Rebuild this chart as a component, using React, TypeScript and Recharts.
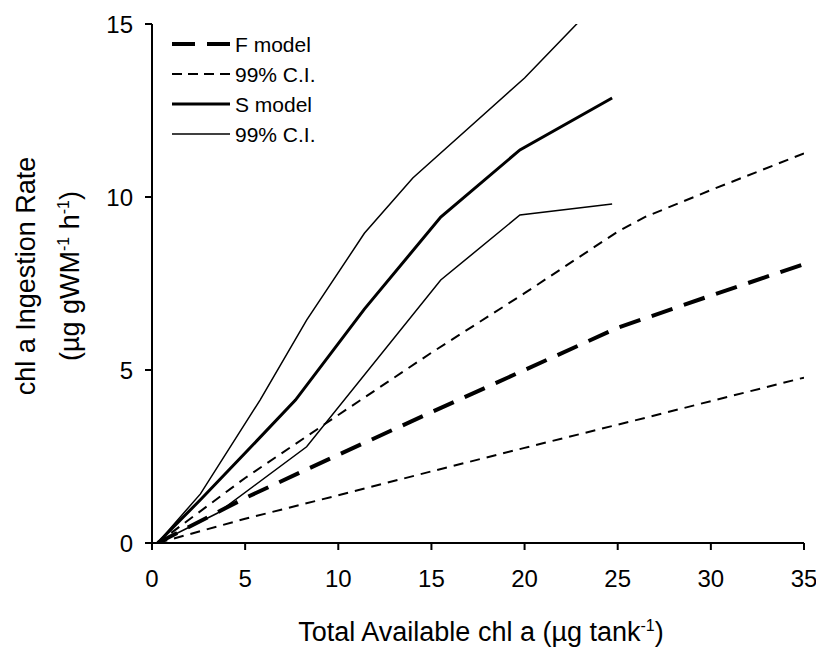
import { LineChart, Line, XAxis, YAxis } from "recharts";

// F model (fitted linear-type model) and its 99% confidence band
const fX = [0.3, 5, 10, 15, 20, 25, 26.5, 30, 35];
const fModel = [0, 1.3, 2.55, 3.78, 5.0, 6.22, 6.5, 7.15, 8.06];
const fUpper = [0, 1.88, 3.7, 5.5, 7.22, 9.0, 9.43, 10.2, 11.26];
const fLower = [0, 0.7, 1.38, 2.07, 2.75, 3.42, 3.62, 4.1, 4.78];

// S model and its 99% confidence band (sampled at the tank values)
const sModelX = [0.3, 2.6, 5, 7.7, 11.4, 15.5, 19.75, 24.7];
const sModel = [0, 1.25, 2.6, 4.13, 6.76, 9.42, 11.36, 12.86];
const sUpperX = [0.3, 2.6, 5.8, 8.3, 11.4, 14, 20, 24.7];
const sUpper = [0, 1.42, 4.13, 6.44, 8.95, 10.55, 13.44, 16.06];
const sLowerX = [0.3, 3.5, 8.3, 15.5, 19.75, 24.7];
const sLower = [0, 0.86, 2.78, 7.6, 9.48, 9.8];

const xTicks = [0, 5, 10, 15, 20, 25, 30, 35];
const yTicks = [0, 5, 10, 15];

const toPoints = (xs: number[], ys: number[]) => xs.map((x, i) => ({ x, y: ys[i] }));

const FONT = "Arial, 'Liberation Sans', sans-serif";

const legendRows = [
  { label: "F model", width: 4, dash: "23 12" },
  { label: "99% C.I.", width: 2, dash: "10 6" },
  { label: "S model", width: 3, dash: undefined },
  { label: "99% C.I.", width: 1.5, dash: undefined },
];

function ChartLegend() {
  return (
    <g fontFamily={FONT} fontSize={21}>
      {legendRows.map((r, i) => {
        const y = 44 + i * 30;
        return (
          <g key={i}>
            <line x1={164} x2={222} y1={y} y2={y} stroke="#000" strokeWidth={r.width} strokeDasharray={r.dash} />
            <text x={227} y={y} dominantBaseline="central" fill="#000">
              {r.label}
            </text>
          </g>
        );
      })}
    </g>
  );
}

function AxisTitles() {
  return (
    <g fontFamily={FONT} fontSize={27} fill="#000">
      <text x={473} y={641} textAnchor="middle">
        Total Available chl a (µg tank
        <tspan dy={-10} fontSize={16}>-1</tspan>
        <tspan dy={10}>)</tspan>
      </text>
      <text x={27} y={276} textAnchor="middle" transform="rotate(-90 27 276)">
        chl a Ingestion Rate
      </text>
      <text x={71} y={276} textAnchor="middle" transform="rotate(-90 71 276)">
        (µg gWM
        <tspan dy={-10} fontSize={16}>-1</tspan>
        <tspan dy={10}> h</tspan>
        <tspan dy={-10} fontSize={16}>-1</tspan>
        <tspan dy={10}>)</tspan>
      </text>
    </g>
  );
}

export default function App() {
  const tickStyle = { fill: "#000", fontSize: 24, fontFamily: FONT };
  return (
    <div style={{ marginTop: -8, width: 808, height: 648 }}>
      <LineChart width={808} height={648} margin={{ top: 24, right: 12, bottom: 0, left: 0 }}>
        <XAxis
          type="number"
          dataKey="x"
          domain={[0, 35]}
          ticks={xTicks}
          allowDataOverflow
          height={105}
          tick={tickStyle}
          tickSize={7}
          tickMargin={20}
          axisLine={{ stroke: "#000", strokeWidth: 2 }}
          tickLine={{ stroke: "#000", strokeWidth: 2 }}
        />
        <XAxis
          xAxisId="top"
          orientation="top"
          type="number"
          dataKey="x"
          domain={[0, 35]}
          height={0}
          tick={false}
          tickLine={false}
          axisLine={{ stroke: "#000", strokeWidth: 1.5 }}
        />
        <YAxis
          type="number"
          domain={[0, 15]}
          ticks={yTicks}
          allowDataOverflow
          width={144}
          tick={tickStyle}
          tickSize={7}
          tickMargin={12}
          axisLine={{ stroke: "#000", strokeWidth: 2 }}
          tickLine={{ stroke: "#000", strokeWidth: 2 }}
        />
        <YAxis
          yAxisId="right"
          orientation="right"
          type="number"
          domain={[0, 15]}
          width={0}
          tick={false}
          tickLine={false}
          axisLine={{ stroke: "#000", strokeWidth: 1.5 }}
        />
        <Line data={toPoints(fX, fLower)} dataKey="y" type="linear" stroke="#000" strokeWidth={2} strokeDasharray="10 7" dot={false} isAnimationActive={false} />
        <Line data={toPoints(fX, fUpper)} dataKey="y" type="linear" stroke="#000" strokeWidth={2} strokeDasharray="10 7" dot={false} isAnimationActive={false} />
        <Line data={toPoints(fX, fModel)} dataKey="y" type="linear" stroke="#000" strokeWidth={4} strokeDasharray="22 12" dot={false} isAnimationActive={false} />
        <Line data={toPoints(sLowerX, sLower)} dataKey="y" type="linear" stroke="#000" strokeWidth={1.5} dot={false} isAnimationActive={false} />
        <Line data={toPoints(sUpperX, sUpper)} dataKey="y" type="linear" stroke="#000" strokeWidth={1.5} dot={false} isAnimationActive={false} />
        <Line data={toPoints(sModelX, sModel)} dataKey="y" type="linear" stroke="#000" strokeWidth={3} dot={false} isAnimationActive={false} />
        <ChartLegend />
        <AxisTitles />
      </LineChart>
    </div>
  );
}
